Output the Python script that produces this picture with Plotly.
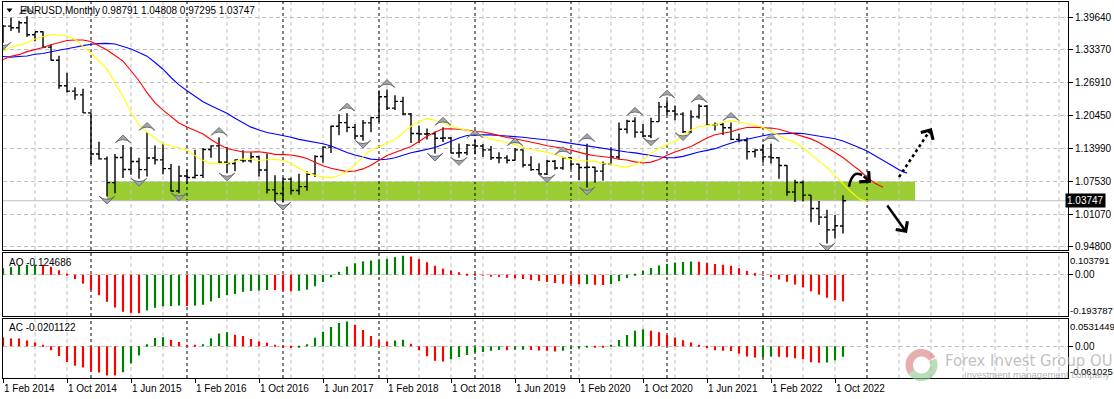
import numpy as np
import pandas as pd
import plotly.graph_objects as go

# ---------------- data: EURUSD monthly bars, Dec 2010 .. Nov 2022 ----------------
# bar index 0 = Jan 2014 (the first 37 bars are history used by the indicators)
START_IDX = -37
opens = [1.2983, 1.3384, 1.3694, 1.3806, 1.4165, 1.4806, 1.4394, 1.4502, 1.4394, 1.4370, 1.3389, 1.3870, 1.3447,
         1.2960, 1.3079, 1.3324, 1.3326, 1.3237, 1.2366, 1.2663, 1.2306, 1.2576, 1.2856, 1.2958, 1.2985,
         1.3193, 1.3578, 1.3055, 1.2818, 1.3168, 1.2998, 1.3008, 1.3298, 1.3219, 1.3525, 1.3584, 1.3590,
         1.3743, 1.3486, 1.3802, 1.3769, 1.3868, 1.3633, 1.3692, 1.3390, 1.3131, 1.2631, 1.2526, 1.2453,
         1.2098, 1.1291, 1.1197, 1.0731, 1.1224, 1.0987, 1.1146, 1.0985, 1.1212, 1.1177, 1.1004, 1.0565,
         1.0861, 1.0831, 1.0873, 1.1380, 1.1452, 1.1132, 1.1104, 1.1174, 1.1157, 1.1239, 1.0979, 1.0587,
         1.0517, 1.0798, 1.0575, 1.0652, 1.0895, 1.1244, 1.1426, 1.1837, 1.1908, 1.1814, 1.1646, 1.1903,
         1.2005, 1.2414, 1.2193, 1.2324, 1.2078, 1.1693, 1.1684, 1.1690, 1.1601, 1.1605, 1.1312, 1.1315,
         1.1467, 1.1448, 1.1372, 1.1217, 1.1215, 1.1168, 1.1372, 1.1076, 1.0986, 1.0899, 1.1151, 1.1016,
         1.1213, 1.1094, 1.1027, 1.1031, 1.0955, 1.1099, 1.1234, 1.1778, 1.1935, 1.1722, 1.1646, 1.1927,
         1.2216, 1.2136, 1.2075, 1.1728, 1.2020, 1.2228, 1.1858, 1.1870, 1.1807, 1.1579, 1.1558, 1.1338,
         1.1370, 1.1235, 1.1219, 1.1067, 1.0545, 1.0733, 1.0484, 1.0222, 1.0053, 0.9802, 0.98791]
highs = [1.3500, 1.3759, 1.3862, 1.4249, 1.4882, 1.4940, 1.4698, 1.4535, 1.4549, 1.4548, 1.4247, 1.3875, 1.3549,
         1.3234, 1.3487, 1.3386, 1.3340, 1.3284, 1.2748, 1.2692, 1.2624, 1.3172, 1.3140, 1.3010, 1.3308,
         1.3711, 1.3711, 1.3128, 1.3243, 1.3243, 1.3416, 1.3346, 1.3452, 1.3569, 1.3832, 1.3620, 1.3893,
         1.3775, 1.3823, 1.3967, 1.3906, 1.3993, 1.3677, 1.3700, 1.3445, 1.3222, 1.2887, 1.2600, 1.2570,
         1.2105, 1.1534, 1.1243, 1.1290, 1.1467, 1.1436, 1.1216, 1.1714, 1.1460, 1.1495, 1.1095, 1.1060,
         1.0986, 1.1376, 1.1410, 1.1464, 1.1616, 1.1428, 1.1186, 1.1366, 1.1327, 1.1259, 1.1300, 1.0874,
         1.0829, 1.0829, 1.0906, 1.0951, 1.1268, 1.1445, 1.1846, 1.2070, 1.2092, 1.1880, 1.1961, 1.2023,
         1.2537, 1.2556, 1.2446, 1.2414, 1.2097, 1.1852, 1.1791, 1.1734, 1.1815, 1.1625, 1.1500, 1.1486,
         1.1570, 1.1489, 1.1448, 1.1324, 1.1265, 1.1412, 1.1383, 1.1250, 1.1110, 1.1180, 1.1176, 1.1240,
         1.1239, 1.1096, 1.1495, 1.1040, 1.1146, 1.1422, 1.1909, 1.1966, 1.2011, 1.1881, 1.2003, 1.2310,
         1.2349, 1.2243, 1.2113, 1.2150, 1.2266, 1.2254, 1.1908, 1.1900, 1.1909, 1.1692, 1.1616, 1.1386,
         1.1482, 1.1495, 1.1233, 1.1076, 1.0787, 1.0774, 1.0486, 1.0368, 1.0198, 1.0094, 1.04808]
lows = [1.2970, 1.2867, 1.3430, 1.3749, 1.4155, 1.3968, 1.4071, 1.3837, 1.4051, 1.3362, 1.3146, 1.3145, 1.2858,
        1.2624, 1.3029, 1.3004, 1.3003, 1.2288, 1.2287, 1.2042, 1.2131, 1.2563, 1.2802, 1.2661, 1.2924,
        1.3108, 1.3020, 1.2750, 1.2745, 1.2796, 1.2996, 1.2755, 1.3206, 1.3105, 1.3478, 1.3296, 1.3544,
        1.3478, 1.3476, 1.3706, 1.3673, 1.3592, 1.3503, 1.3367, 1.3129, 1.2571, 1.2501, 1.2357, 1.2097,
        1.1098, 1.1185, 1.0458, 1.0520, 1.0819, 1.0887, 1.0808, 1.0848, 1.1087, 1.0896, 1.0557, 1.0523,
        1.0710, 1.0810, 1.0822, 1.1217, 1.1098, 1.0912, 1.0952, 1.1123, 1.1122, 1.0852, 1.0518, 1.0352,
        1.0340, 1.0495, 1.0493, 1.0569, 1.0839, 1.1118, 1.1312, 1.1662, 1.1717, 1.1575, 1.1554, 1.1718,
        1.1915, 1.2154, 1.2154, 1.2055, 1.1510, 1.1508, 1.1576, 1.1301, 1.1526, 1.1302, 1.1216, 1.1269,
        1.1289, 1.1234, 1.1176, 1.1110, 1.1106, 1.1160, 1.1026, 1.0962, 1.0885, 1.0879, 1.0981, 1.0981,
        1.0992, 1.0778, 1.0636, 1.0727, 1.0767, 1.1090, 1.1185, 1.1696, 1.1612, 1.1622, 1.1603, 1.1924,
        1.2054, 1.1953, 1.1704, 1.1705, 1.1986, 1.1847, 1.1752, 1.1664, 1.1563, 1.1524, 1.1186, 1.1222,
        1.1121, 1.1106, 1.0806, 1.0471, 1.0349, 1.0359, 0.9952, 0.9901, 0.9536, 0.9632, 0.97295]
closes = [1.3384, 1.3694, 1.3806, 1.4165, 1.4806, 1.4394, 1.4502, 1.4394, 1.4370, 1.3389, 1.3870, 1.3447, 1.2960,
          1.3079, 1.3324, 1.3326, 1.3237, 1.2366, 1.2663, 1.2306, 1.2576, 1.2856, 1.2958, 1.2985, 1.3193,
          1.3578, 1.3055, 1.2818, 1.3168, 1.2998, 1.3008, 1.3298, 1.3219, 1.3525, 1.3584, 1.3590, 1.3743,
          1.3486, 1.3802, 1.3769, 1.3868, 1.3633, 1.3692, 1.3390, 1.3131, 1.2631, 1.2526, 1.2453, 1.2098,
          1.1291, 1.1197, 1.0731, 1.1224, 1.0987, 1.1146, 1.0985, 1.1212, 1.1177, 1.1004, 1.0565, 1.0861,
          1.0831, 1.0873, 1.1380, 1.1452, 1.1132, 1.1104, 1.1174, 1.1157, 1.1239, 1.0979, 1.0587, 1.0517,
          1.0798, 1.0575, 1.0652, 1.0895, 1.1244, 1.1426, 1.1837, 1.1908, 1.1814, 1.1646, 1.1903, 1.2005,
          1.2414, 1.2193, 1.2324, 1.2078, 1.1693, 1.1684, 1.1690, 1.1601, 1.1605, 1.1312, 1.1315, 1.1467,
          1.1448, 1.1372, 1.1217, 1.1215, 1.1168, 1.1372, 1.1076, 1.0986, 1.0899, 1.1151, 1.1016, 1.1213,
          1.1094, 1.1027, 1.1031, 1.0955, 1.1099, 1.1234, 1.1778, 1.1935, 1.1722, 1.1646, 1.1927, 1.2216,
          1.2136, 1.2075, 1.1728, 1.2020, 1.2228, 1.1858, 1.1870, 1.1807, 1.1579, 1.1558, 1.1338, 1.1370,
          1.1235, 1.1219, 1.1067, 1.0545, 1.0733, 1.0484, 1.0222, 1.0053, 0.9802, 0.9884, 1.03747]

# fractal bars (bar index, Jan 2014 = 0)
fractal_up_idx = [4, 16, 19, 28, 44, 49, 56, 60, 65, 71, 74, 80, 84, 88, 92, 97]
fractal_dn_idx = [1, 14, 18, 23, 29, 36, 46, 55, 58, 69, 74, 82, 86, 104]

# axis ticks / labels
price_ticks = [1.39640, 1.33370, 1.26910, 1.20450, 1.13990, 1.07530, 1.01070, 0.94800]
x_label_idx = [1, 9, 17, 25, 33, 41, 49, 57, 65, 73, 81, 89, 97, 105]
x_labels = ["1 Feb 2014", "1 Oct 2014", "1 Jun 2015", "1 Feb 2016", "1 Oct 2016", "1 Jun 2017",
            "1 Feb 2018", "1 Oct 2018", "1 Jun 2019", "1 Feb 2020", "1 Oct 2020", "1 Jun 2021",
            "1 Feb 2022", "1 Oct 2022"]
separator_idx = [12, 24, 36, 48, 60, 72, 84, 96, 109]
grid_idx = [5, 9, 17, 21, 29, 33, 37, 41, 45, 49, 53, 57, 61, 65, 69, 73, 77, 81, 85, 89, 93, 97,
            101, 105, 113, 117, 121, 125, 129, 133]
last_price = 1.03747
header_values = "0.98791 1.04808 0.97295 1.03747"
ao_range = [-0.193787, 0.103791]
ac_range = [-0.061025, 0.0531449]
ao_text = "AO -0.124686"
ac_text = "AC -0.0201122"

# drawn objects (bar index, price)
zone_x = [14, 115]
zone_y = [1.0372, 1.0750]
curve_x = [106.75, 107.0, 107.6, 108.4]
curve_y = [1.0650, 1.0790, 1.0900, 1.0880]
curve_head = [108.4, 1.0880, 109.5, 1.0728]
down_arrow = [111.4, 1.0311, 114.0, 0.9742]
dotted_x = [113.0, 116.9]
dotted_y = [1.0841, 1.1760]

# ---------------- indicators (Bill Williams set) ----------------
O = np.array(opens); H = np.array(highs); L = np.array(lows); C = np.array(closes)
idx = np.arange(len(O)) + START_IDX
med = (H + L) / 2.0


def smma(x, n):
    out = np.full(len(x), np.nan)
    out[n - 1] = x[:n].mean()
    for i in range(n, len(x)):
        out[i] = (out[i - 1] * (n - 1) + x[i]) / n
    return out


def sma(x, n):
    return pd.Series(x).rolling(n).mean().to_numpy()


jaw, teeth, lips = smma(med, 13), smma(med, 8), smma(med, 5)
ao = sma(med, 5) - sma(med, 34)
ac = ao - sma(ao, 5)

# ---------------- geometry ----------------
W, HGT = 1114, 399
ML, MR, MT, MB = 3, 46, 2, 21
PW, PH = W - ML - MR, HGT - MT - MB


def pxx(px):
    return (px - ML) / PW


def pyy(py):
    return (HGT - MB - py) / PH


P_REF, PY_REF, PX_PER_UNIT = 1.2691, 82.7, 509.6
main_range = [P_REF - (250 - PY_REF) / PX_PER_UNIT, P_REF + (PY_REF - MT) / PX_PER_UNIT]
x_range = [1, 1 + PW / 8.0]

FONT = "Liberation Sans"
GRID = "#c0c0c0"

fig = go.Figure()

vis = idx >= 0
fig.add_trace(go.Ohlc(x=idx[vis], open=O[vis], high=H[vis], low=L[vis], close=C[vis],
                      increasing=dict(line=dict(color="black", width=1.4)),
                      decreasing=dict(line=dict(color="black", width=1.4)),
                      tickwidth=0.38, hoverinfo="skip", xaxis="x", yaxis="y"))

for vals, shift, col in [(jaw, 8, "#0000FF"), (teeth, 5, "#FF0000"), (lips, 3, "#FFFF00")]:
    m = (~np.isnan(vals)) & (idx + shift >= -1)
    fig.add_trace(go.Scatter(x=idx[m] + shift, y=vals[m], mode="lines",
                             line=dict(color=col, width=1.1), hoverinfo="skip", xaxis="x", yaxis="y"))

# fractals
up_pos = np.array(fractal_up_idx) - START_IDX
dn_pos = np.array(fractal_dn_idx) - START_IDX
fmark = dict(size=11, color="#a4a8ad", line=dict(color="#6a6e73", width=1))
fig.add_trace(go.Scatter(x=idx[up_pos], y=H[up_pos] + 10 / PX_PER_UNIT, mode="markers",
                         marker=dict(fmark, symbol="arrow-wide"),
                         hoverinfo="skip", xaxis="x", yaxis="y"))
fig.add_trace(go.Scatter(x=idx[dn_pos], y=L[dn_pos] - 7.5 / PX_PER_UNIT, mode="markers",
                         marker=dict(fmark, symbol="arrow-wide", angle=180),
                         hoverinfo="skip", xaxis="x", yaxis="y"))

# hand drawn arrows
fig.add_trace(go.Scatter(x=curve_x, y=curve_y, mode="lines", line=dict(color="black", width=2.5, shape="spline"),
                         hoverinfo="skip", xaxis="x", yaxis="y"))
fig.add_trace(go.Scatter(x=dotted_x, y=dotted_y, mode="lines", line=dict(color="black", width=2.5, dash="dot"),
                         hoverinfo="skip", xaxis="x", yaxis="y"))


def bar_colors(v):
    cols = []
    for i in range(len(v)):
        cols.append("#008000" if i > 0 and v[i] > v[i - 1] else "#FF0000")
    return np.array(cols)


ao_col = bar_colors(ao)
ac_col = bar_colors(ac)
fig.add_trace(go.Bar(x=idx[vis], y=ao[vis], width=0.27, marker=dict(color=ao_col[vis], line=dict(width=0)),
                     hoverinfo="skip", xaxis="x2", yaxis="y2"))
fig.add_trace(go.Bar(x=idx[vis], y=ac[vis], width=0.27, marker=dict(color=ac_col[vis], line=dict(width=0)),
                     hoverinfo="skip", xaxis="x3", yaxis="y3"))

# ---------------- shapes ----------------
shapes = []
shapes.append(dict(type="rect", xref="x", yref="y", x0=zone_x[0], x1=zone_x[1], y0=zone_y[0], y1=zone_y[1],
                   fillcolor="#9ACD32", line=dict(width=0), layer="below"))
panel_ranges = {"y": main_range, "y2": ao_range, "y3": ac_range}
for xr, yr in [("x", "y"), ("x2", "y2"), ("x3", "y3")]:
    y0, y1 = panel_ranges[yr]
    for g in grid_idx:
        shapes.append(dict(type="line", xref=xr, yref=yr, x0=g, x1=g, y0=y0, y1=y1,
                           line=dict(color=GRID, width=1, dash="4px,3px"), layer="below"))
    for s in separator_idx:
        shapes.append(dict(type="line", xref=xr, yref=yr, x0=s, x1=s, y0=y0, y1=y1,
                           line=dict(color="black", width=1, dash="3px,3px"), layer="below"))
shapes.append(dict(type="line", xref="x", yref="y", x0=x_range[0], x1=x_range[1], y0=last_price, y1=last_price,
                   line=dict(color="#c0c0c0", width=1), layer="below"))
# header triangle
shapes.append(dict(type="path", xref="paper", yref="paper",
                   path=f"M{pxx(6.5)},{pyy(8.5)} L{pxx(12.5)},{pyy(8.5)} L{pxx(9.5)},{pyy(12.5)} Z",
                   fillcolor="black", line=dict(width=0)))


# watermark logo (ring)
def ring_path(cx, cy, r1, r2, a0, a1):
    a = np.radians(np.linspace(a0, a1, 40))
    outer = [(cx + r1 * np.cos(t), cy - r1 * np.sin(t)) for t in a]
    inner = [(cx + r2 * np.cos(t), cy - r2 * np.sin(t)) for t in a[::-1]]
    pts = outer + inner
    return "M" + " L".join(f"{pxx(x):.5f},{pyy(y):.5f}" for x, y in pts) + " Z"


shapes.append(dict(type="path", xref="paper", yref="paper", path=ring_path(921.5, 365, 16, 8.5, 30, 215),
                   fillcolor="rgba(215,120,120,0.6)", line=dict(width=0)))
shapes.append(dict(type="path", xref="paper", yref="paper", path=ring_path(921.5, 365, 16, 8.5, 215, 385),
                   fillcolor="rgba(140,200,140,0.6)", line=dict(width=0)))

# ---------------- annotations ----------------
ann = []
tf = dict(family=FONT, size=10, color="black")
ann.append(dict(xref="paper", yref="paper", x=pxx(18), y=pyy(10), xanchor="left", yanchor="middle",
                text="EURUSD,Monthly", showarrow=False, font=tf))
ann.append(dict(xref="paper", yref="paper", x=pxx(100), y=pyy(10), xanchor="left", yanchor="middle",
                text=header_values, showarrow=False, font=tf))
ann.append(dict(xref="paper", yref="paper", x=pxx(7), y=pyy(262), xanchor="left", yanchor="middle",
                text=ao_text, showarrow=False, font=tf))
ann.append(dict(xref="paper", yref="paper", x=pxx(7), y=pyy(327.5), xanchor="left", yanchor="middle",
                text=ac_text, showarrow=False, font=tf))
for txt, py in [(f"{ao_range[1]:.6f}", 260), (f"{ao_range[0]:.6f}", 310),
                (f"{ac_range[1]:.7f}", 326), (f"{ac_range[0]:.6f}", 371.5)]:
    ann.append(dict(xref="paper", yref="paper", x=1, y=pyy(py), xanchor="left", yanchor="middle",
                    xshift=0, text=txt, showarrow=False, font=dict(family=FONT, size=9.5, color="black")))
ann.append(dict(xref="paper", yref="y", x=1, y=last_price, xanchor="left", yanchor="middle", xshift=-3,
                text=f"{last_price:.5f}", showarrow=False, bgcolor="black", borderpad=1,
                font=dict(family=FONT, size=10, color="white")))
for xi, txt in zip(x_label_idx, x_labels):
    ann.append(dict(xref="x3", yref="paper", x=xi, y=pyy(381), xanchor="left", yanchor="top", xshift=-1,
                    text=txt, showarrow=False, font=tf))
# arrow heads
ann.append(dict(xref="x", yref="y", axref="x", ayref="y", x=curve_head[2], y=curve_head[3],
                ax=curve_head[0], ay=curve_head[1], text="", showarrow=True, arrowhead=4, arrowsize=1.1,
                arrowwidth=2.5, arrowcolor="black", standoff=0))
ann.append(dict(xref="x", yref="y", axref="x", ayref="y", x=down_arrow[2], y=down_arrow[3],
                ax=down_arrow[0], ay=down_arrow[1], text="", showarrow=True, arrowhead=4, arrowsize=1.1,
                arrowwidth=2.5, arrowcolor="black", standoff=0))
ann.append(dict(xref="x", yref="y", axref="x", ayref="y", x=dotted_x[1] + 0.2, y=dotted_y[1] + 0.004,
                ax=dotted_x[1] - 0.3, ay=dotted_y[1] - 0.009, text="", showarrow=True, arrowhead=4,
                arrowsize=1.1, arrowwidth=2.5, arrowcolor="black", standoff=0))
# watermark text
ann.append(dict(xref="paper", yref="paper", x=pxx(943), y=pyy(360), xanchor="left", yanchor="middle",
                text="Forex Invest Group OU", showarrow=False,
                font=dict(family="Liberation Sans Narrow, DejaVu Sans Condensed, Liberation Sans", size=16.5,
                          color="rgba(165,165,165,0.7)")))
ann.append(dict(xref="paper", yref="paper", x=pxx(962), y=pyy(374), xanchor="left", yanchor="middle",
                text="Investment management company", showarrow=False,
                font=dict(family=FONT, size=9.5, color="rgba(150,150,150,0.75)")))

# ---------------- layout ----------------
xcommon = dict(range=x_range, showgrid=False, zeroline=False, showline=True, mirror=True,
               linecolor="black", linewidth=1, fixedrange=True)
ycommon = dict(side="right", showline=True, mirror=True, linecolor="black", linewidth=1, zeroline=False,
               ticks="outside", ticklen=4, tickcolor="black", tickfont=tf, showgrid=True, gridcolor=GRID,
               griddash="4px,3px", gridwidth=1, fixedrange=True)

fig.update_layout(
    width=W, height=HGT, margin=dict(l=ML, r=MR, t=MT, b=MB),
    paper_bgcolor="white", plot_bgcolor="white", showlegend=False, barmode="overlay",
    font=dict(family=FONT, size=10, color="black"), hovermode=False,
    xaxis=dict(xcommon, anchor="y", showticklabels=False, ticks="", rangeslider=dict(visible=False)),
    xaxis2=dict(xcommon, anchor="y2", matches="x", showticklabels=False, ticks=""),
    xaxis3=dict(xcommon, anchor="y3", matches="x", showticklabels=False, ticks="outside", ticklen=4,
                tickcolor="black", tickvals=x_label_idx),
    yaxis=dict(ycommon, anchor="x", domain=[pyy(250), 1.0], range=main_range, tickvals=price_ticks,
               ticktext=[f"{v:.5f}" for v in price_ticks]),
    yaxis2=dict(ycommon, anchor="x2", domain=[pyy(316), pyy(252.7)], range=ao_range, tickvals=[0],
                ticktext=["0.00"]),
    yaxis3=dict(ycommon, anchor="x3", domain=[0.0, pyy(318.7)], range=ac_range, tickvals=[0],
                ticktext=["0.00"]),
    shapes=shapes, annotations=ann,
)

fig.write_html("out.html", config={"displayModeBar": False},
               post_script="document.body.style.margin='0';document.body.style.overflow='hidden';")
